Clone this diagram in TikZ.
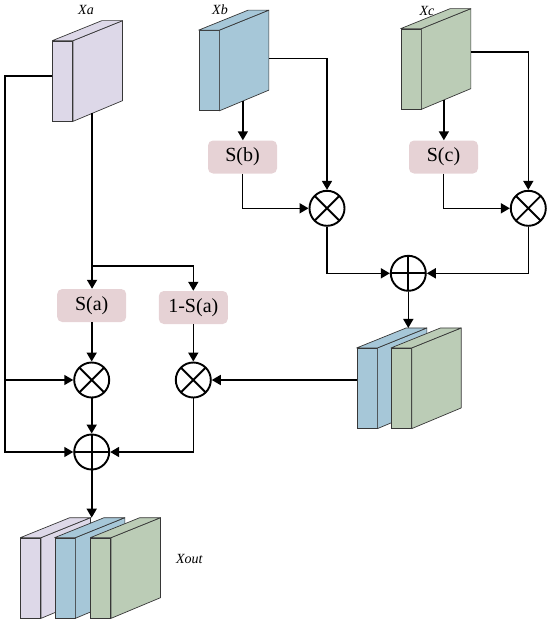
\documentclass[tikz,border=0pt]{standalone}
\usepackage{fontspec}
\setmainfont{Liberation Serif}
\usepackage{xcolor}
\usetikzlibrary{arrows.meta,calc}

\definecolor{slablav}{RGB}{221,216,232}
\definecolor{slabblue}{RGB}{166,199,216}
\definecolor{slabgreen}{RGB}{187,204,182}
\definecolor{gatepink}{RGB}{230,210,213}
\definecolor{slabline}{RGB}{55,55,55}

\tikzset{
  slabfront/.style={draw=slabline, line width=0.7pt, minimum width=20pt, minimum height=80pt, inner sep=0pt},
  slabedge/.style={draw=slabline, line width=0.7pt, line join=round},
  gate/.style={fill=gatepink, rounded corners=5pt, minimum width=69pt, minimum height=33pt, inner sep=0pt, font=\fontsize{20}{22}\selectfont},
  mulnode/.style={circle, draw, line width=1.9pt, minimum size=35pt, inner sep=0pt,
    path picture={\draw[line width=1.9pt] (path picture bounding box.north west) -- (path picture bounding box.south east)
      (path picture bounding box.north east) -- (path picture bounding box.south west);}},
  addnode/.style={circle, draw, line width=1.9pt, minimum size=35pt, inner sep=0pt,
    path picture={\draw[line width=1.9pt] (path picture bounding box.north) -- (path picture bounding box.south)
      (path picture bounding box.east) -- (path picture bounding box.west);}},
  flow/.style={line width=1.6pt},
  flowarr/.style={flow, -{Triangle[length=9pt,width=10pt]}},
  tag/.style={font=\itshape\fontsize{14}{16}\selectfont}
}

% slab: name, centre of front face, colour
\newcommand{\slab}[3]{%
  \node[slabfront, fill=#3] (#1) at (#2) {};
  \draw[slabedge, fill=#3] (#1.north east) -- ++(49.5,-20) coordinate (#1-ne) -- ++(0,80) coordinate (#1-se) -- (#1.south east) -- cycle;
  \draw[slabedge, fill=#3] (#1.north west) -- ++(49.5,-20) coordinate (#1-nw) -- (#1-ne) -- (#1.north east) -- cycle;
}

\begin{document}
\begin{tikzpicture}[x=1pt, y=-1pt]
  \useasboundingbox (0,0) rectangle (550,623);

  \slab{xa}{62.7,81}{slablav}
  \slab{xb}{209,70.5}{slabblue}
  \slab{xc}{411,69}{slabgreen}
  \node[tag] (lblxa) at (86,10) {Xa};
  \node[tag] (lblxb) at (220,10) {Xb};
  \node[tag] (lblxc) at (427,11) {Xc};

  \node[gate] (sa) at (91.7,305.5) {S(a)};
  \node[gate] (sa1) at (193.3,307.5) {1-S(a)};
  \node[gate] (sb) at (242.5,157) {S(b)};
  \node[gate] (sc) at (443.5,157) {S(c)};
  \node[mulnode] (mula) at (91.7,380) {};
  \node[mulnode] (mula1) at (193.3,380) {};
  \node[mulnode] (mulb) at (327,208.3) {};
  \node[mulnode] (mulc) at (528.3,208.3) {};
  \node[addnode] (addbc) at (408.3,273.3) {};
  \node[addnode] (adda) at (91.7,452) {};

  \slab{midb}{367,388.3}{slabblue}
  \slab{midc}{401.3,388.3}{slabgreen}
  \slab{outa}{30.7,578}{slablav}
  \slab{outb}{65,578}{slabblue}
  \slab{outc}{100.7,578}{slabgreen}
  \node[tag] (lblout) at (189.3,559.3) {Xout};

  \coordinate (rail) at (5,0);
  \coordinate (split) at (91.7,265.7);
  \coordinate (xaout) at ($(xa.south east)!0.384!(xa-se)$);
  \coordinate (xbout) at ($(xb.south east)!0.475!(xb-se)$);
  \coordinate (xcout) at ($(xc.south east)!0.455!(xc-se)$);
  \coordinate (xbside) at ($(xb-ne)!0.606!(xb-se)$);
  \coordinate (xcside) at ($(xc-ne)!0.54!(xc-se)$);

  \draw[flowarr] ([yshift=5pt]xa.west) -| (rail |- adda) -- (adda);
  \draw[flowarr] (rail |- mula) -- (mula);
  \draw[flowarr] (xaout) -- (xaout |- sa.north);
  \draw[flowarr] (split) -| (sa1);
  \draw[flowarr] (sa) -- (mula);
  \draw[flowarr] (sa1) -- (mula1);
  \draw[flowarr] (mula) -- (adda);
  \draw[flowarr] (mula1) |- (adda);
  \draw[flowarr] (midb.west |- mula1) -- (mula1);
  \draw[flowarr] (adda) -- (adda |- outb-nw);

  \draw[flowarr] (xbout) -- (xbout |- sb.north);
  \draw[flowarr] (xcout) -- (xcout |- sc.north);
  \draw[flowarr] (xbside) -| (mulb);
  \draw[flowarr] (xcside) -| (mulc);
  \draw[flowarr] (sb) |- (mulb);
  \draw[flowarr] (sc) |- (mulc);
  \draw[flowarr] (mulb) |- (addbc);
  \draw[flowarr] (mulc) |- (addbc);
  \draw[flowarr] (addbc) -- (addbc |- midb-ne);
\end{tikzpicture}
\end{document}
